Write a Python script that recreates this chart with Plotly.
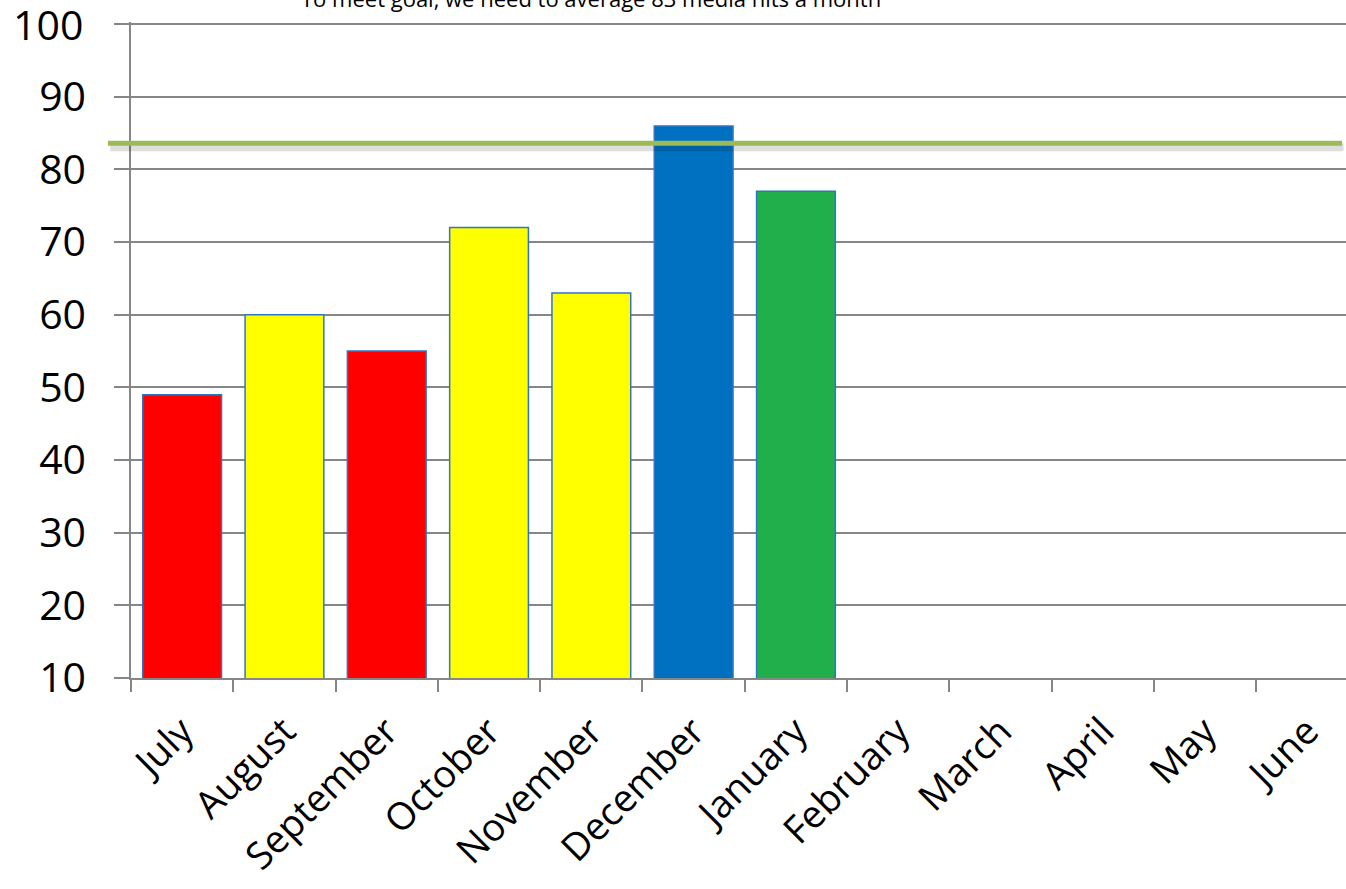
import plotly.graph_objects as go

months = ['July', 'August', 'September', 'October', 'November', 'December',
          'January', 'February', 'March', 'April', 'May', 'June']
hits = [49, 60, 55, 72, 63, 86, 77, None, None, None, None, None]
bar_colors = ['#FF0000', '#FFFF00', '#FF0000', '#FFFF00', '#FFFF00', '#0070C0',
              '#21AF4B', '#FFFFFF', '#FFFFFF', '#FFFFFF', '#FFFFFF', '#FFFFFF']
y_ticks = [10, 20, 30, 40, 50, 60, 70, 80, 90, 100]
goal = 83.6
title_text = 'To meet goal, we need to average 83 media hits a month'

fig = go.Figure()
fig.add_trace(go.Bar(x=months, y=hits, width=0.77,
                     marker=dict(color=bar_colors,
                                 line=dict(color='#2E75C6', width=1.5)),
                     hoverinfo='x+y'))

# goal line with a soft shadow underneath
fig.add_shape(type='line', xref='paper', yref='y', x0=-0.017, x1=0.998,
              y0=goal - 0.55, y1=goal - 0.55,
              line=dict(color='rgba(0,0,0,0.13)', width=8))
fig.add_shape(type='line', xref='paper', yref='y', x0=-0.019, x1=0.9967,
              y0=goal, y1=goal, line=dict(color='#9BBB59', width=5))

fig.add_annotation(text=title_text, xref='paper', yref='paper',
                   x=(591 - 131) / 1215, y=1.0, yshift=7, yanchor='bottom',
                   xanchor='center', showarrow=False,
                   font=dict(family='Open Sans', size=22, color='#000000'))

# the top tick label sits at the very edge of the figure and plotly hides it,
# so it is drawn as an annotation at the same axis value
fig.add_annotation(text=str(y_ticks[-1]), xref='paper', yref='y',
                   x=(84 - 131) / 1215, y=y_ticks[-1], xanchor='right',
                   yanchor='middle', showarrow=False, borderpad=0,
                   font=dict(family='Open Sans', size=41, color='#000000'))

fig.update_layout(
    width=1346, height=889,
    margin=dict(l=131, r=0, t=22, b=211),
    plot_bgcolor='white', paper_bgcolor='white',
    showlegend=False,
    font=dict(family='Open Sans', color='#000000'),
)
fig.update_xaxes(type='category', range=[-0.5, 11.377], automargin=False,
                 showgrid=False, showline=True, linecolor='#868686', linewidth=1.5,
                 ticks='outside', tickson='boundaries', ticklen=12,
                 tickcolor='#868686', tickwidth=1.5,
                 ticklabelstandoff=14,
                 tickangle=-45, tickfont=dict(size=38, family='Open Sans'))
fig.update_yaxes(range=[10, 100.3], tickvals=y_ticks,
                 ticktext=[str(v) for v in y_ticks[:-1]] + [''],
                 automargin=False,
                 showgrid=True, gridcolor='#868686', gridwidth=1.5,
                 showline=True, linecolor='#868686', linewidth=1.5,
                 ticks='outside', ticklen=15, tickcolor='#868686', tickwidth=1.5,
                 ticklabelstandoff=20,
                 tickfont=dict(size=41, family='Open Sans'), zeroline=False)

fig.write_html("out.html", config={'displayModeBar': False},
               post_script="document.body.style.margin='0';")
